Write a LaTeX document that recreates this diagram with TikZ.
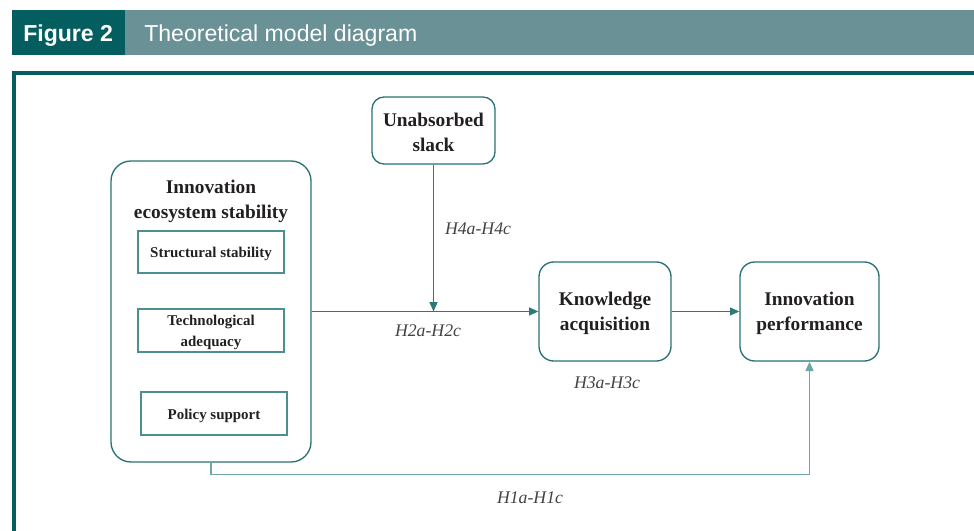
\documentclass[tikz,border=0pt]{standalone}
\usepackage{fontspec}
\setmainfont{Liberation Serif}
\newfontfamily\hsans{Liberation Sans}
\usetikzlibrary{arrows.meta}
\definecolor{darkteal}{HTML}{045E5F}
\definecolor{barteal}{HTML}{6A9196}
\definecolor{boxteal}{HTML}{2A7272}
\definecolor{innerteal}{HTML}{4F8E8E}
\definecolor{lineteal}{HTML}{2F7878}
\definecolor{lowteal}{HTML}{6FA6A6}
\definecolor{txt}{HTML}{231F20}
\tikzset{
  rbox/.style={draw=boxteal, line width=1pt, rounded corners=#1, inner sep=0pt},
  ibox/.style={draw=innerteal, line width=1pt, inner sep=0pt, align=center, text=txt,
     font=\bfseries\fontsize{11.2}{15.7}\selectfont},
  ttl/.style={align=center, text=txt, font=\bfseries\fontsize{14.5}{19}\selectfont, inner sep=0pt},
  hlab/.style={text=txt!85, font=\itshape\fontsize{13.3}{16}\selectfont, inner sep=0pt},
  conn/.style={draw=lineteal, line width=1pt, -{Triangle[length=7pt,width=6pt]}},
}
\begin{document}
\begin{tikzpicture}[x=0.75pt,y=-0.75pt]
\useasboundingbox (0,0) rectangle (974,531);
% header
\fill[darkteal] (12,10) rectangle (125,55);
\fill[barteal] (125,10) rectangle (974,55);
\node[anchor=west, text=white, font=\hsans\bfseries\fontsize{17.3}{20}\selectfont, inner sep=0pt] (fig) at (23,35.5) {Figure 2};
\node[anchor=west, text=white, font=\hsans\fontsize{17.3}{20}\selectfont, inner sep=0pt] (ttlh) at (144,35.5) {Theoretical model diagram};
% frame
\draw[darkteal, line width=3pt] (14,540) -- (14,73) -- (990,73);
% main box
\node[rbox=15pt, minimum width=150pt, minimum height=225.75pt] (main) at (211,311.5) {};
\node[ttl] (maint) at (211,201.5) {Innovation\\ecosystem stability};
\node[ibox, minimum width=109.5pt, minimum height=31.5pt] (ss) at (211,252) {};
\node[ibox, draw=none] (sst) at (211,254) {Structural stability};
\node[ibox, minimum width=109.5pt, minimum height=32.25pt] (ta) at (211,330.5) {};
\node[ibox, draw=none] (tat) at (211,332.5) {Technological\\adequacy};
\node[ibox, minimum width=109.5pt, minimum height=32.25pt] (ps) at (214,413.5) {};
\node[ibox, draw=none] (pst) at (214,415.5) {Policy support};
% other boxes
\node[rbox=9pt, minimum width=92.25pt, minimum height=50.25pt] (us) at (433.5,130.5) {};
\node[ttl] (ust) at (433.5,132.5) {Unabsorbed\\slack};
\node[rbox=11pt, minimum width=99pt, minimum height=74.25pt] (ka) at (605,311.5) {};
\node[ttl] (kat) at (605,313.5) {Knowledge\\acquisition};
\node[rbox=11pt, minimum width=104.25pt, minimum height=74.25pt] (ip) at (809.5,311.5) {};
\node[ttl] (ipt) at (809.5,313.5) {Innovation\\performance};
% connectors
\coordinate (mid) at (433.5,311.5);
\draw[conn] (main.east) -- (ka.west);
\draw[conn] (us.south) -- (mid);
\draw[conn] (ka.east) -- (ip.west);
\draw[conn, draw=lowteal] (main.south) -- ++(0,12) -| (ip.south);
% labels
\node[hlab] (h4) at (478,229) {H4a-H4c};
\node[hlab] (h2) at (428,331) {H2a-H2c};
\node[hlab] (h3) at (607,383) {H3a-H3c};
\node[hlab] (h1) at (530,498) {H1a-H1c};
\end{tikzpicture}
\end{document}
